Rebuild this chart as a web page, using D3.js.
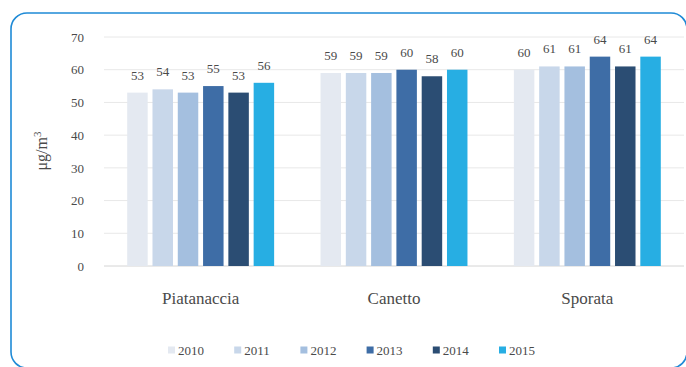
<!DOCTYPE html>
<html>
<head>
<meta charset="utf-8">
<script src="https://cdn.jsdelivr.net/npm/d3@7"></script>
<style>
  html, body { margin: 0; padding: 0; background: #ffffff; }
  svg { display: block; }
</style>
</head>
<body>
<svg id="chart" width="686" height="367"></svg>
<script>
// Stations and yearly values (µg/m³)
const stations = ["Piatanaccia", "Canetto", "Sporata"];
const years = ["2010", "2011", "2012", "2013", "2014", "2015"];
const values2010 = [53, 59, 60];
const values2011 = [54, 59, 61];
const values2012 = [53, 59, 61];
const values2013 = [55, 60, 64];
const values2014 = [53, 58, 61];
const values2015 = [56, 60, 64];
const yTicks = [0, 10, 20, 30, 40, 50, 60, 70];
const yearColors = ["#e4e9f1", "#c8d7ea", "#a4bfdf", "#3e6da6", "#2b4d73", "#27aee3"];

const seriesValues = [values2010, values2011, values2012, values2013, values2014, values2015];

const FONT = "'Liberation Serif', 'DejaVu Serif', 'Times New Roman', serif";
const TEXT_COLOR = "#4a4a4a";

const svg = d3.select("#chart");

// Rounded frame
svg.append("rect")
  .attr("x", 11).attr("y", 13)
  .attr("width", 676).attr("height", 355)
  .attr("rx", 16).attr("ry", 16)
  .attr("fill", "none")
  .attr("stroke", "#1f8ad6")
  .attr("stroke-width", 1.6);

const plot = { left: 104, right: 684, top: 37, bottom: 266 };

const x0 = d3.scaleBand()
  .domain(stations)
  .range([plot.left, plot.right])
  .paddingInner(0.24)
  .paddingOuter(0.12);

const x1 = d3.scaleBand()
  .domain(years)
  .range([0, x0.bandwidth()])
  .paddingInner(0.19);

const y = d3.scaleLinear()
  .domain([0, 70])
  .range([plot.bottom, plot.top]);

const color = d3.scaleOrdinal().domain(years).range(yearColors);

// Horizontal gridlines
svg.append("g")
  .selectAll("line")
  .data(yTicks)
  .join("line")
  .attr("x1", plot.left).attr("x2", plot.right)
  .attr("y1", d => y(d)).attr("y2", d => y(d))
  .attr("stroke", d => d === 0 ? "#d4d4d4" : "#e8e8e8")
  .attr("stroke-width", 1);

// Y axis tick labels
const yAxis = d3.axisLeft(y).tickValues(yTicks).tickSize(0).tickPadding(0);
const gy = svg.append("g")
  .attr("transform", `translate(84,0)`)
  .call(yAxis)
  .attr("font-family", FONT)
  .attr("font-size", 13);
gy.select(".domain").remove();
gy.selectAll("text").attr("fill", TEXT_COLOR);

// Y axis title
const yTitle = svg.append("text")
  .attr("transform", "translate(41,151) rotate(-90)")
  .attr("text-anchor", "middle")
  .attr("dy", "0.35em")
  .attr("font-family", FONT)
  .attr("font-size", 16)
  .attr("fill", TEXT_COLOR);
yTitle.append("tspan").text("μg/m");
yTitle.append("tspan").attr("baseline-shift", "super").attr("font-size", 11).text("3");

// Bars
const rows = stations.map((s, i) => ({
  station: s,
  items: years.map((yr, j) => ({ year: yr, value: seriesValues[j][i] }))
}));

const groups = svg.append("g")
  .selectAll("g")
  .data(rows)
  .join("g")
  .attr("transform", d => `translate(${x0(d.station)},0)`);

groups.selectAll("rect")
  .data(d => d.items)
  .join("rect")
  .attr("x", d => x1(d.year))
  .attr("y", d => y(d.value))
  .attr("width", x1.bandwidth())
  .attr("height", d => y(0) - y(d.value))
  .attr("fill", d => color(d.year));

groups.selectAll("text.val")
  .data(d => d.items)
  .join("text")
  .attr("class", "val")
  .attr("x", d => x1(d.year) + x1.bandwidth() / 2)
  .attr("y", d => y(d.value) - 13)
  .attr("text-anchor", "middle")
  .attr("font-family", FONT)
  .attr("font-size", 13)
  .attr("fill", TEXT_COLOR)
  .text(d => d.value);

// Category labels
svg.append("g")
  .selectAll("text")
  .data(stations)
  .join("text")
  .attr("x", d => x0(d) + x0.bandwidth() / 2)
  .attr("y", 298)
  .attr("dy", "0.35em")
  .attr("text-anchor", "middle")
  .attr("font-family", FONT)
  .attr("font-size", 17)
  .attr("fill", TEXT_COLOR)
  .text(d => d);

// Legend
const legend = svg.append("g").attr("transform", "translate(168,350)");
const item = legend.selectAll("g")
  .data(years)
  .join("g")
  .attr("transform", (d, i) => `translate(${i * 66.2},0)`);
item.append("rect")
  .attr("x", 0).attr("y", -3.5)
  .attr("width", 7).attr("height", 7)
  .attr("fill", d => color(d));
item.append("text")
  .attr("x", 10)
  .attr("dy", "0.35em")
  .attr("font-family", FONT)
  .attr("font-size", 13)
  .attr("fill", TEXT_COLOR)
  .text(d => d);
</script>
</body>
</html>
